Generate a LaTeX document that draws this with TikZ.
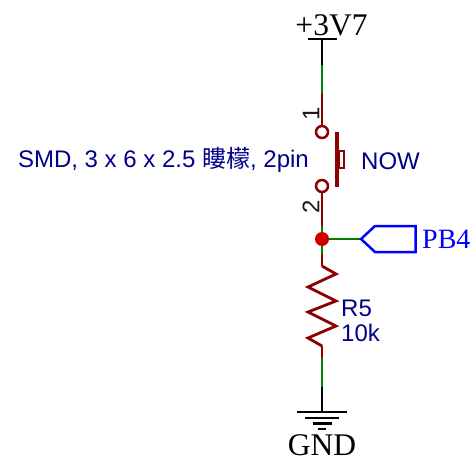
\documentclass[tikz,border=0pt]{standalone}
\usepackage{fontspec}
\setmainfont{Liberation Sans}
\newfontfamily\serifnet{Liberation Serif}
\newfontfamily\cjk{Noto Sans CJK TC}
\usepackage{tikz}
\definecolor{wirered}{RGB}{139,0,0}
\definecolor{wiregreen}{RGB}{0,128,0}
\definecolor{labelblue}{RGB}{0,0,139}
\definecolor{portblue}{RGB}{0,0,255}
\definecolor{dotred}{RGB}{204,0,0}
\tikzset{
    pinline/.style={draw=wirered, line width=2.5pt},
    netline/.style={draw=wiregreen, line width=2.5pt},
    powerline/.style={draw=black, line width=2.5pt},
    partlabel/.style={text=labelblue, font=\fontsize{24}{24}\selectfont, inner sep=0pt},
    netlabel/.style={text=black, font=\serifnet\fontsize{31.5}{32}\selectfont, inner sep=0pt},
    pinlabel/.style={text=black!90, font=\fontsize{24}{24}\selectfont, inner sep=0pt, rotate=90},
    contact/.style={circle, draw=wirered, line width=2.5pt, fill=white, minimum size=12pt, inner sep=0pt}
}
\begin{document}
\begin{tikzpicture}[x=1pt, y=-1pt]
        \useasboundingbox (0, 0) rectangle (476, 461);

        \coordinate (vcc) at (322, 39);
        \coordinate (vccend) at (322, 65);
        \coordinate (pinone) at (322, 93);
        \node[contact] (top) at (322, 132) {};
        \node[contact] (bot) at (322, 186) {};
        \coordinate (pintwo) at (322, 226);
        \node[circle, fill=dotred, minimum size=14pt, inner sep=0pt] (junction) at (322, 239) {};
        \coordinate (resup) at (322, 266);
        \coordinate (resdown) at (322, 358);
        \coordinate (gndwire) at (322, 387);
        \coordinate (gnd) at (322, 412);
        \coordinate (portend) at (361, 239);

        \node[netlabel] (vcclabel) at (331.5, 25) {+3V7};
        \node[netlabel] (gndlabel) at (322, 445) {GND};
        \node[pinlabel] (one) at (311, 114) {1};
        \node[pinlabel] (two) at (311, 207) {2};
        \node[partlabel, anchor=west] (now) at (361, 161) {NOW};
        \node[partlabel, anchor=east] (package) at (309, 160) {SMD, 3 x 6 x 2.5 {\cjk 瞜檬}, 2pin};
        \node[partlabel, anchor=west] (rname) at (341, 308) {R5};
        \node[partlabel, anchor=west] (rvalue) at (341, 333) {10k};
        \node[text=portblue, font=\serifnet\fontsize{28}{28}\selectfont, inner sep=0pt, anchor=west] (portlabel) at (422, 239) {PB4};

        % supply
        \draw[powerline] (308, 39) -- (337, 39);
        \draw[powerline] (vcc) -- (vccend);
        \draw[netline] (vccend) -- (pinone);
        \draw[pinline] (pinone) -- (top);
        \draw[pinline] (bot) -- (pintwo);
        \draw[netline] (pintwo) -- (junction);

        % push button
        \draw[draw=wirered, line width=4.5pt] (337, 132) -- (337, 187);
        \draw[draw=wirered, line width=2pt, fill=white] (339, 151) rectangle (343.5, 167.5);

        % port
        \draw[netline] (junction) -- (portend);
        \draw[draw=portblue, line width=2.5pt] (portend) -- (375, 226) -- (415.5, 226) -- (415.5, 252) -- (375, 252) -- cycle;

        % resistor
        \draw[netline] (junction) -- (322, 254);
        \draw[pinline] (322, 254) -- (resup);
        \draw[draw=wirered, line width=2.8pt] (resup) -- (336, 274) -- (308, 287) -- (336, 301) -- (308, 312) -- (336, 326) -- (308, 338) -- (322, 346);
        \draw[pinline] (322, 346) -- (resdown);
        \draw[netline] (resdown) -- (gndwire);
        \draw[powerline] (gndwire) -- (gnd);

        % ground
        \draw[powerline] (297, 412) -- (347, 412);
        \draw[powerline] (305, 418) -- (339, 418);
        \draw[powerline] (313, 423.5) -- (332, 423.5);
        \draw[powerline] (318, 429) -- (326, 429);
    \end{tikzpicture}
\end{document}
